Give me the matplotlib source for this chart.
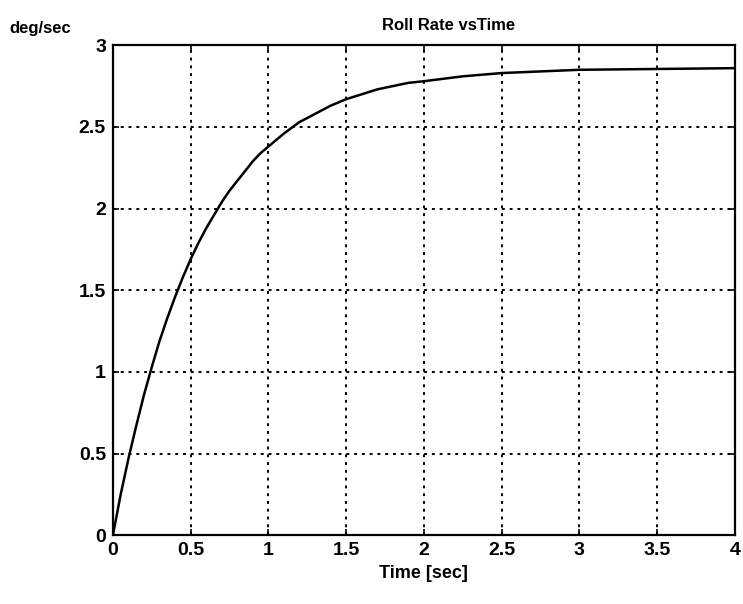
import numpy as np
import matplotlib
matplotlib.use("Agg")
import matplotlib.pyplot as plt

# values
t_sec = [0, 0.05, 0.1, 0.15, 0.2, 0.25, 0.3, 0.35, 0.4, 0.45, 0.5, 0.55,
         0.6, 0.65, 0.7, 0.75, 0.8, 0.85, 0.9, 0.95, 1.0, 1.1, 1.2, 1.3,
         1.4, 1.5, 1.6, 1.7, 1.8, 1.9, 2.0, 2.25, 2.5, 2.75, 3.0, 3.5, 4.0]
roll_rate = [0, 0.25, 0.47, 0.67, 0.86, 1.03, 1.19, 1.33, 1.46, 1.58, 1.69,
             1.79, 1.88, 1.96, 2.04, 2.11, 2.17, 2.23, 2.29, 2.34, 2.38,
             2.46, 2.53, 2.58, 2.63, 2.67, 2.70, 2.73, 2.75, 2.77, 2.78,
             2.81, 2.83, 2.84, 2.85, 2.855, 2.86]

x_ticks = [0, 0.5, 1, 1.5, 2, 2.5, 3, 3.5, 4]
x_labels = ['0', '0.5', '1', '1.5', '2', '2.5', '3', '3.5', '4']
y_ticks = [0, 0.5, 1, 1.5, 2, 2.5, 3]
y_labels = ['0', '0.5', '1', '1.5', '2', '2.5', '3']

plt.rcParams['font.family'] = ['Liberation Sans', 'DejaVu Sans']
plt.rcParams['font.weight'] = 'bold'

fig = plt.figure(figsize=(7.43, 6.04), dpi=100)
ax = fig.add_axes([0.152, 0.114, 0.837, 0.811])

ax.plot(t_sec, roll_rate, color='black', lw=1.8)

ax.set_xlim(0, 4)
ax.set_ylim(0, 3)
ax.set_xticks(x_ticks)
ax.set_xticklabels(x_labels)
ax.set_yticks(y_ticks)
ax.set_yticklabels(y_labels)
ax.tick_params(labelsize=14, length=4, width=1.2, direction='in', pad=5,
               top=True, right=True)

ax.grid(True, color='black', linestyle=(0, (1.5, 2.5)), linewidth=1.4)
for s in ax.spines.values():
    s.set_linewidth(1.6)

ax.set_xlabel('Time [sec]', fontsize=13, fontweight='bold', labelpad=4)
ax.text(0.54, 1.025, 'Roll Rate vsTime', transform=ax.transAxes,
        ha='center', va='bottom', fontsize=12, fontweight='bold')
fig.text(0.012, 0.953, 'deg/sec', fontsize=12, fontweight='bold',
         ha='left', va='center')

fig.savefig('out.png', dpi=100)
